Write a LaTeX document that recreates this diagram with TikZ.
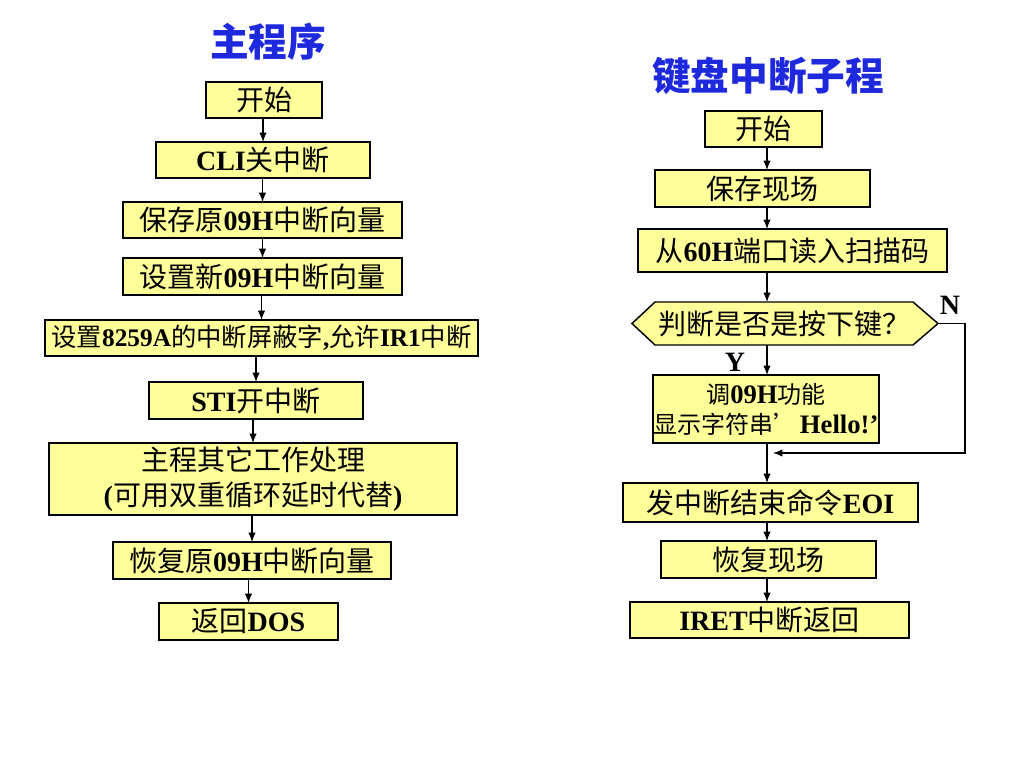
\documentclass[tikz,border=0pt]{standalone}
\usepackage{fontspec}
\setmainfont{Noto Sans CJK SC}
\newfontfamily\tnr{Liberation Serif}
\usetikzlibrary{arrows.meta,calc,backgrounds}
\definecolor{boxfill}{HTML}{FFFF99}
\definecolor{titleblue}{RGB}{30,40,220}
\newcommand\EN[1]{{\tnr\bfseries #1}}
\begin{document}
\begin{tikzpicture}[x=0.75pt,y=-0.75pt,
  bx/.style={draw=black, line width=1.1pt, fill=boxfill, inner sep=0pt, outer sep=0pt,
    anchor=north west, align=center, font=\fontsize{21}{26}\selectfont},
  sz/.style 2 args={minimum width=#1*0.75pt, minimum height=#2*0.75pt},
  arr/.style={draw=black, line width=0.9pt, -{Latex[length=7pt,width=5.5pt]}},
  ttl/.style={text=titleblue, inner sep=0pt, font=\fontsize{29}{32}\selectfont\bfseries},
  lbl/.style={font=\fontsize{21}{24}\selectfont\tnr\bfseries, inner sep=0pt}]
\useasboundingbox (0,0) rectangle (1024,768);

% ---------- titles ----------
\node[ttl] (t1) at (268,42) {主程序};
\node[ttl] (t2) at (768,76) {键盘中断子程};

% ---------- main program ----------
\node[bx, sz={116}{36}] (m1) at (206,82) {开始};
\node[bx, sz={214}{36}] (m2) at (156,142) {\EN{CLI}关中断};
\node[bx, sz={279}{36}] (m3) at (123,202) {保存原\EN{09H}中断向量};
\node[bx, sz={279}{37}] (m4) at (123,258) {设置新\EN{09H}中断向量};
\node[bx, sz={433}{36}, font=\fontsize{19}{24}\selectfont] (m5) at (45,320)
  {设置\EN{8259A}的中断屏蔽字\EN{,}允许\EN{IR1}中断};
\node[bx, sz={214}{37}] (m6) at (149,382) {\EN{STI}开中断};
\node[bx, sz={408}{72}] (m7) at (49,443) {主程其它工作处理\\\EN{(}可用双重循环延时代替\EN{)}};
\node[bx, sz={278}{37}] (m8) at (113,542) {恢复原\EN{09H}中断向量};
\node[bx, sz={179}{37}] (m9) at (159,603) {返回\EN{DOS}};

\foreach \a/\b in {m1/m2,m2/m3,m3/m4,m4/m5,m5/m6,m6/m7,m7/m8,m8/m9}
  \draw[arr] (\a.south -| \b.north) -- (\b.north);

% ---------- keyboard interrupt routine ----------
\coordinate (rs) at (767,0);
\node[bx, sz={117}{36}] (r1) at (705,111) {开始};
\node[bx, sz={215}{37}] (r2) at (655,170) {保存现场};
\node[bx, sz={309}{43}] (r3) at (638,229) {从\EN{60H}端口读入扫描码};
\node[bx, sz={258}{43}, draw=none, fill=none] (r4) at (655,302) {判断是否是按下键？};
\begin{scope}[on background layer]
  \draw[line width=1.1pt, fill=boxfill] (r4.north west) -- (r4.north east)
    -- ($(r4.east)+(25,0)$) coordinate (hr) -- (r4.south east) -- (r4.south west)
    -- ($(r4.west)+(-23,0)$) -- cycle;
\end{scope}
\node[bx, sz={226}{68}, font=\fontsize{18}{22.5}\selectfont] (r5) at (653,375)
  {调{\fontsize{20}{22.5}\selectfont\EN{09H}}功能\\显示字符串’\hspace{0.1em}{\fontsize{20}{22.5}\selectfont\EN{Hello!’}}};
\node[bx, sz={295}{39}] (r6) at (623,483) {发中断结束命令\EN{EOI}};
\node[bx, sz={215}{37}] (r7) at (661,541) {恢复现场};
\node[bx, sz={279}{36}] (r8) at (630,602) {\EN{IRET}中断返回};

\draw[arr] (r1.south -| rs) -- (r2.north -| rs);
\draw[arr] (r2.south -| rs) -- (r3.north -| rs);
\draw[arr] (r3.south -| rs) -- (r4.north -| rs);
\draw[arr] (r4.south -| rs) -- (r5.north -| rs);
\draw[arr] (r5.south -| rs) -- (r6.north -| rs);
\draw[arr] (r6.south -| rs) -- (r7.north -| rs);
\draw[arr] (r7.south -| rs) -- (r8.north -| rs);

\coordinate (nc) at (965,453);
\coordinate (mg) at (773,453);
\draw[arr] (hr) -| (nc) -- (mg);

\node[lbl] (nl) at (950,305) {N};
\node[lbl] (yl) at (735,362) {Y};
\end{tikzpicture}
\end{document}
